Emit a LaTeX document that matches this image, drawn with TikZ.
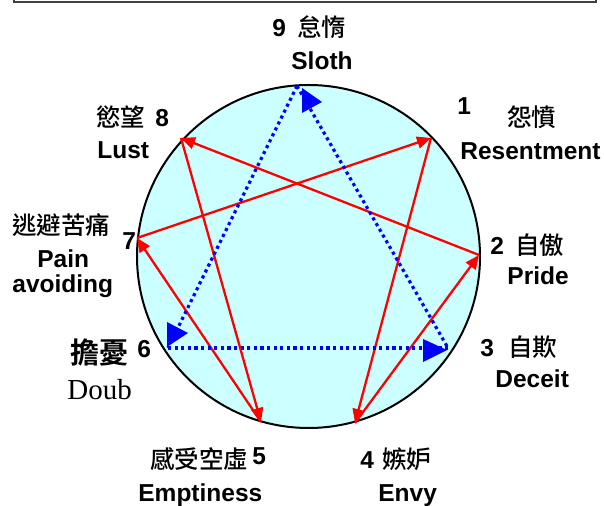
\documentclass[tikz,border=0pt]{standalone}
\usepackage{fontspec}
\setmainfont{Liberation Sans}
\newfontfamily\cjk{Noto Sans CJK TC}[UprightFont=* Medium, BoldFont=* Bold]
\newfontfamily\tnr{Liberation Serif}
\usetikzlibrary{arrows.meta}
\definecolor{ennfill}{HTML}{CCFFFF}
\definecolor{ennred}{HTML}{FF0000}
\definecolor{ennblue}{HTML}{0000FF}

\begin{document}
\begin{tikzpicture}[
  x=0.5pt, y=-0.5pt,
  ring/.style={draw=black, line width=1pt, fill=ennfill, circle,
               minimum size=171.5pt, inner sep=0pt},
  hexad/.style={-{Triangle[length=7pt,width=6pt]}, ennred, line width=1.15pt},
  triad/.style={ennblue, line width=1.6pt, dash pattern=on 1.6pt off 1.7pt},
  bluetri/.style={fill=ennblue},
  lbl/.style={font=\bfseries\fontsize{12.25}{14}\selectfont,
              inner sep=0pt, anchor=base west},
  zh/.style={font=\cjk\fontsize{12.25}{14}\selectfont,
             inner sep=0pt, anchor=base west},
]
  \useasboundingbox (0,0) rectangle (604,506);

  %% ── frame cut by the top edge ──
  \draw[black!75, line width=0.8pt] (14,-20) rectangle (596,2);

  %% ── circle and its nine points ──
  \node[ring] (ring) at (308.5,256.5) {};
  \coordinate (p9) at (297,86);
  \coordinate (p1) at (431,138);
  \coordinate (p2) at (479,255);
  \coordinate (p3) at (448,348);
  \coordinate (p4) at (355,423);
  \coordinate (p5) at (261,422);
  \coordinate (p6) at (168,348);
  \coordinate (p7) at (137,238);
  \coordinate (p8) at (181,138);

  %% ── hexad 1-4-2-8-5-7 ──
  \draw[hexad] (p2) -- (p8);
  \draw[hexad] (p7) -- (p1);
  \draw[hexad] (p8) -- (p5);
  \draw[hexad] (p1) -- (p4);
  \draw[hexad] (p5) -- (p7);
  \draw[hexad] (p4) -- (p2);

  %% ── triangle 9-3-6 ──
  \draw[triad] (p9) -- (p3);
  \draw[triad] (p6) -- (p3);
  \draw[triad] (p9) -- (p6);
  \fill[bluetri] (p9) ++(5,2) -- ++(20,14) -- ++(-20,11) -- cycle;
  \fill[bluetri] (p6) ++(-1,-26) -- ++(21,11) -- ++(-21,14) -- cycle;
  \fill[bluetri] (p3) ++(-25,-9) -- ++(24,11) -- ++(-24,12) -- cycle;

  %% ── labels ──
  \node[lbl] (lab9) at (272,37) {9\hspace{5.7pt}{\cjk\mdseries 怠惰}};
  \node[lbl] (eng9) at (291,70) {Sloth};

  \node[lbl] (lab8) at (96,127) {{\cjk\mdseries 慾望}\hspace{5pt}8};
  \node[lbl] (eng8) at (97,159) {Lust};

  \node[lbl] (num1) at (457,115) {1};
  \node[zh]  (lab1) at (507,127) {怨憤};
  \node[lbl] (eng1) at (460,160) {Resentment};

  \node[lbl] (lab2) at (490,255) {2\hspace{5.7pt}{\cjk\mdseries 自傲}};
  \node[lbl] (eng2) at (507,285) {Pride};

  \node[lbl] (lab3) at (480,357) {3\hspace{7.2pt}{\cjk\mdseries 自欺}};
  \node[lbl] (eng3) at (495,388) {Deceit};

  \node[lbl] (lab4) at (360,469) {4\hspace{4.2pt}{\cjk\mdseries 嫉妒}};
  \node[lbl] (eng4) at (378,502) {Envy};

  \node[lbl] (lab5) at (150,469) {{\cjk\mdseries 感受空虛}\hspace{2pt}\raisebox{2pt}{5}};
  \node[lbl] (eng5) at (138,502) {Emptiness};

  \node[lbl] (num6) at (137,358) {6};
  \node[zh, font=\cjk\bfseries\fontsize{14.5}{17}\selectfont] (lab6) at (70,364) {擔憂};
  \node[lbl, font=\tnr\fontsize{14.5}{17}\selectfont] (eng6) at (67,400) {Doub};

  \node[lbl] (num7) at (122,250) {7};
  \node[zh]  (lab7) at (12,235) {逃避苦痛};
  \node[lbl] (eng7) at (37,268) {Pain};
  \node[lbl] (eng7b) at (12,293) {avoiding};
\end{tikzpicture}
\end{document}
